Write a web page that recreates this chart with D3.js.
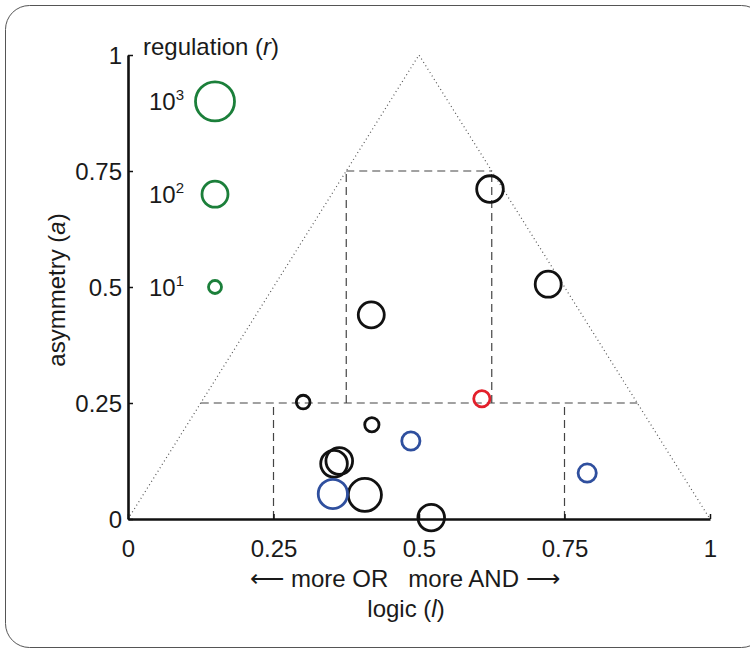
<!DOCTYPE html>
<html><head><meta charset="utf-8">
<script src="https://cdn.jsdelivr.net/npm/d3@7"></script>
<style>body{margin:0;background:#fff}svg{display:block}text{font-family:"Liberation Sans",Arial,Helvetica,sans-serif;fill:#1a1a1a}</style>
</head><body>
<script>
// Data
const logicVals      = [0.622, 0.722, 0.418, 0.301, 0.419, 0.354, 0.363, 0.407, 0.521, 0.352, 0.486, 0.789, 0.608];
const asymmetryVals  = [0.711, 0.506, 0.440, 0.252, 0.203, 0.119, 0.125, 0.052, 0.003, 0.054, 0.168, 0.099, 0.259];
const log10Regulation= [2.05, 2.0, 2.0, 1.05, 1.1, 2.05, 2.05, 2.55, 2.05, 2.25, 1.4, 1.4, 1.25];
const pointGroup     = ["black","black","black","black","black","black","black","black","black","blue","blue","blue","red"];
const tickValues     = [0, 0.25, 0.5, 0.75, 1];
const tickLabels     = ["0", "0.25", "0.5", "0.75", "1"];
const legendExponents= [3, 2, 1];
const legendAsym     = [0.9, 0.7, 0.5];

const colors = {black:"#111111", blue:"#2f4f9e", red:"#e3202b", green:"#1b7f3a"};

const W = 750, H = 651;
const FS = 24;
const svg = d3.select("body").append("svg").attr("width", W).attr("height", H);

svg.append("rect").attr("x",5.5).attr("y",5.5).attr("width",760).attr("height",642)
  .attr("rx",24).attr("fill","none").attr("stroke","#555").attr("stroke-width",1);

const x = d3.scaleLinear().domain([0,1]).range([128,710]);
const y = d3.scaleLinear().domain([0,1]).range([519,55]);
const rScale = d3.scaleLinear().domain([0,3]).range([0,19.5]);

const g = svg.append("g");

// dotted triangle
g.append("path")
  .attr("d", d3.line()([[x(0),y(0)],[x(0.5),y(1)],[x(1),y(0)]]))
  .attr("fill","none").attr("stroke","#555").attr("stroke-width",1.2).attr("stroke-dasharray","1,3");

// dashed region lines
const dashed = [
  [[0.125,0.25],[0.875,0.25]],
  [[0.25,0],[0.25,0.25]],
  [[0.75,0],[0.75,0.25]],
  [[0.375,0.25],[0.375,0.75]],
  [[0.625,0.25],[0.625,0.75]],
  [[0.375,0.75],[0.625,0.75]]
];
dashed.forEach(seg => {
  g.append("line").attr("x1",x(seg[0][0])).attr("y1",y(seg[0][1]))
    .attr("x2",x(seg[1][0])).attr("y2",y(seg[1][1]))
    .attr("stroke","#444").attr("stroke-width",1.2).attr("stroke-dasharray","8,5");
});

// axes
const xAxis = d3.axisBottom(x).tickValues(tickValues).tickFormat((d,i)=>tickLabels[i]).tickSizeInner(-5).tickSizeOuter(0);
const yAxis = d3.axisLeft(y).tickValues(tickValues).tickFormat((d,i)=>tickLabels[i]).tickSizeInner(-5).tickSizeOuter(0).tickPadding(6);
const gx = svg.append("g").attr("transform",`translate(0,${y(0)})`).call(xAxis);
const gy = svg.append("g").attr("transform",`translate(${x(0)},0)`).call(yAxis);
[gx,gy].forEach(a=>{
  a.select(".domain").attr("stroke","#111").attr("stroke-width",2.6);
  a.selectAll(".tick line").attr("stroke","#111").attr("stroke-width",1.5);
  a.selectAll(".tick text").attr("font-size",null).style("font-size",FS+"px").attr("fill","#1a1a1a");
});
gx.selectAll(".tick text").attr("y",38).attr("dy",0);
gy.selectAll(".tick text").attr("dy","0.36em");

// points
const pts = logicVals.map((v,i)=>({l:v,a:asymmetryVals[i],r:log10Regulation[i],c:pointGroup[i]}));
svg.append("g").selectAll("circle").data(pts).join("circle")
  .attr("cx",d=>x(d.l)).attr("cy",d=>y(d.a)).attr("r",d=>rScale(d.r))
  .attr("fill","none").attr("stroke",d=>colors[d.c]).attr("stroke-width",2.8);

// legend
const lg = svg.append("g");
const title = lg.append("text").attr("x",143).attr("y",55).style("font-size",FS+"px");
title.append("tspan").text("regulation (");
title.append("tspan").attr("font-style","italic").text("r");
title.append("tspan").text(")");
legendExponents.forEach((e,i)=>{
  const cy = y(legendAsym[i]);
  lg.append("circle").attr("cx",215).attr("cy",cy).attr("r",rScale(e))
    .attr("fill","none").attr("stroke",colors.green).attr("stroke-width",2.8);
  const t = lg.append("text").attr("x",149).attr("y",cy+9).style("font-size",FS+"px");
  t.append("tspan").text("10");
  t.append("tspan").attr("dy",-10).style("font-size","15px").text(e);
});

// axis labels
const xl1 = svg.append("text").attr("x",405).attr("y",587).attr("text-anchor","middle").style("font-size",FS+"px");
xl1.append("tspan").style("font-family","'DejaVu Sans'").style("font-weight","200").text("\u27F5");
xl1.append("tspan").text(" more OR \u00a0\u00a0more AND ");
xl1.append("tspan").style("font-family","'DejaVu Sans'").style("font-weight","200").text("\u27F6");
const xl2 = svg.append("text").attr("x",406).attr("y",617).attr("text-anchor","middle").style("font-size",FS+"px");
xl2.append("tspan").text("logic (");
xl2.append("tspan").attr("font-style","italic").text("l");
xl2.append("tspan").text(")");

const yl = svg.append("text").attr("transform","translate(65,290) rotate(-90)").attr("text-anchor","middle").style("font-size",FS+"px");
yl.append("tspan").text("asymmetry (");
yl.append("tspan").attr("font-style","italic").text("a");
yl.append("tspan").text(")");
</script>
</body></html>
